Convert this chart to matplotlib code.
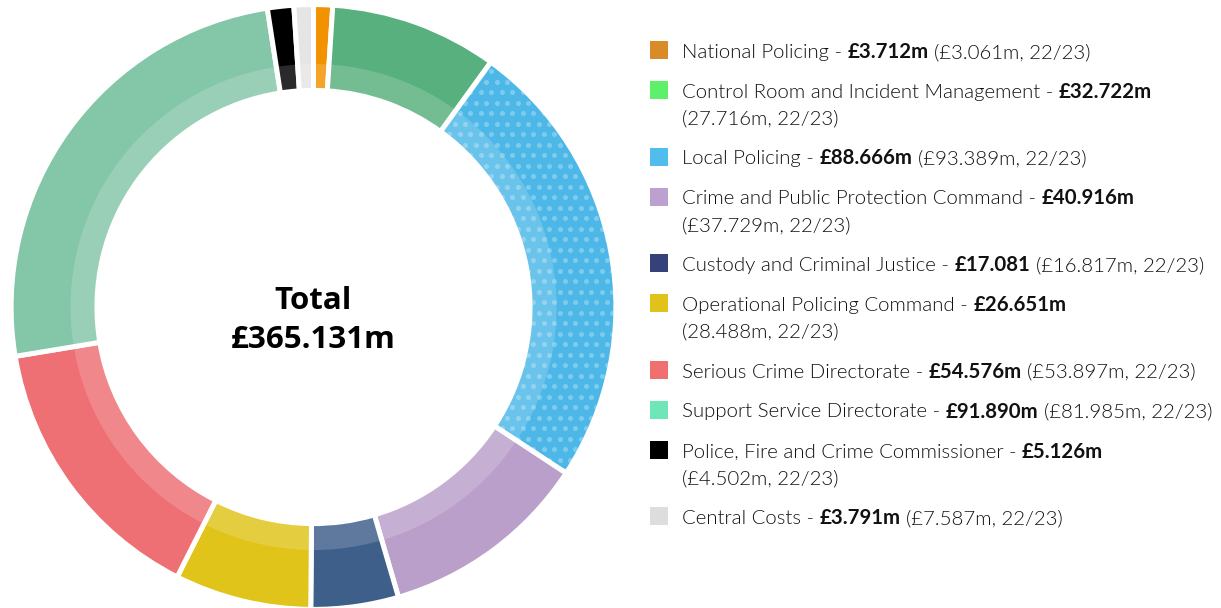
import matplotlib
matplotlib.use("Agg")
import matplotlib.pyplot as plt
from matplotlib.patches import Wedge, Rectangle
import numpy as np

W, H = 1221, 608

categorias = ["National Policing", "Control Room and Incident Management", "Local Policing",
              "Crime and Public Protection Command", "Custody and Criminal Justice",
              "Operational Policing Command", "Serious Crime Directorate",
              "Support Service Directorate", "Police, Fire and Crime Commissioner", "Central Costs"]
valores = [3.712, 32.722, 88.666, 40.916, 17.081, 26.651, 54.576, 91.890, 5.126, 3.791]
etiquetas_valor = ["£3.712m", "£32.722m", "£88.666m", "£40.916m", "£17.081", "£26.651m",
                   "£54.576m", "£91.890m", "£5.126m", "£3.791m"]
previos = ["(£3.061m, 22/23)", "(27.716m, 22/23)", "(£93.389m, 22/23)", "(£37.729m, 22/23)",
           "(£16.817m, 22/23)", "(28.488m, 22/23)", "(£53.897m, 22/23)", "(£81.985m, 22/23)",
           "(£4.502m, 22/23)", "(£7.587m, 22/23)"]
# el texto del año anterior va en una segunda linea
salto = [False, True, False, True, False, True, False, False, True, False]
total = "£365.131m"

colores = ["#F39200", "#58B07E", "#4DB8E8", "#BA9FCA", "#3E5F8A", "#E0C41A",
           "#EE7074", "#84C6A8", "#000000", "#E5E5E5"]
colores_leyenda = ["#D98B27", "#5EF06A", "#50BDED", "#BBA0D0", "#35427A", "#E0C21A",
                   "#F07070", "#6EE6B8", "#000000", "#DDDDDD"]

fuente = "Lato"
fs = 14.7
LIGERA = 300  # Lato Light

fig = plt.figure(figsize=(W / 100, H / 100), dpi=100)

# anillo
cx, cy, R = 313.5, 307, 300
ax = fig.add_axes([(cx - R) / W, (H - cy - R) / H, 2 * R / W, 2 * R / H])
wedges, _ = ax.pie(valores, colors=colores, startangle=90, counterclock=False,
                   radius=1.008, wedgeprops=dict(width=0.286, edgecolor="white", linewidth=3.6))
ax.set_xlim(-1, 1)
ax.set_ylim(-1, 1)
ax.axis("off")
for w in wedges:
    w.set_clip_on(False)

# puntos en Local Policing
w = wedges[2]
clip = Wedge((0, 0), 1.0, w.theta1 + 0.4, w.theta2 - 0.4, width=0.27, transform=ax.transData)
paso = 10.5 / R
pts = []
for i, y in enumerate(np.arange(-1, 1, paso)):
    for x in np.arange(-1 + (i % 2) * paso / 2, 1, paso):
        pts.append((x, y))
pts = np.array(pts)
sc = ax.scatter(pts[:, 0], pts[:, 1], s=13, color="white", alpha=0.28, linewidths=0)
sc.set_clip_path(clip)

# brillo interior
ax.add_patch(Wedge((0, 0), 0.81, 0, 360, width=0.08, facecolor="white", alpha=0.17, linewidth=0))

# total en el centro
fig.text(cx / W, 1 - 309 / H, "Total", ha="center", va="baseline", fontsize=22.5,
         family="Open Sans", weight="bold")
fig.text(cx / W, 1 - 348 / H, total, ha="center", va="baseline", fontsize=22.5,
         family="Open Sans", weight="bold")

# leyenda
r = fig.canvas.get_renderer()


def ancho(s, peso):
    t = fig.text(0, 0, s, fontsize=fs, family=fuente, weight=peso)
    a = t.get_window_extent(r).width
    t.remove()
    return a


esp = ancho("a a", LIGERA) - ancho("aa", LIGERA)


def poner(x, y, s, peso):
    t = fig.text(x / W, 1 - y / H, s, fontsize=fs, family=fuente, weight=peso,
                 va="baseline", color="#111111")
    return x + t.get_window_extent(r).width


y = 58
for i in range(len(categorias)):
    fig.add_artist(Rectangle((650 / W, 1 - (y + 1) / H), 18 / W, 18 / H,
                             transform=fig.transFigure, color=colores_leyenda[i], lw=0))
    x = poner(682, y, categorias[i] + " -", LIGERA) + esp
    x = poner(x, y, etiquetas_valor[i], "bold") + esp
    if salto[i]:
        y += 26.5
        x = 682
    poner(x, y, previos[i], LIGERA)
    y += 40

fig.savefig("out.png", dpi=100)
